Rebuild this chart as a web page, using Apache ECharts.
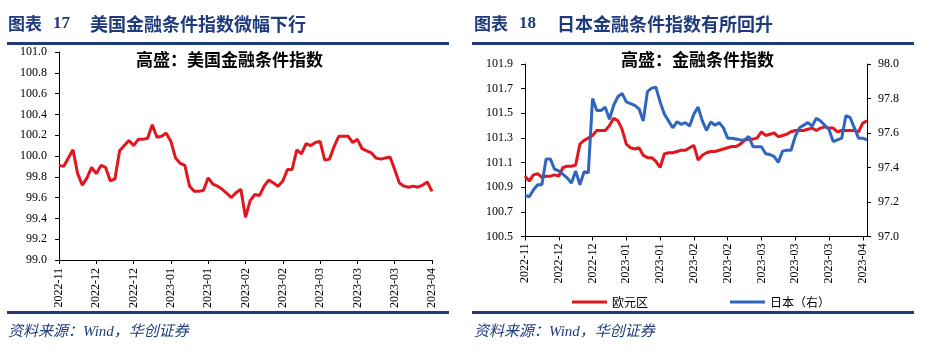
<!DOCTYPE html>
<html>
<head>
<meta charset="utf-8">
<script src="https://cdn.jsdelivr.net/npm/echarts@6/dist/echarts.min.js"></script>
<style>
html, body { margin: 0; padding: 0; background: #fff; }
#main { width: 934px; height: 354px; }
</style>
</head>
<body>
<div id="main"></div>
<script>
// 横轴标签（每8个点一个）
var tickLabels = ['2022-11', '2022-12', '2022-12', '2023-01', '2023-01', '2023-02', '2023-02', '2023-03', '2023-03', '2023-03', '2023-04'];
// 高盛：美国金融条件指数
var usFci = [99.91, 99.90, 99.98, 100.06, 99.83, 99.72, 99.79, 99.89, 99.83, 99.91,
	99.89, 99.76, 99.78, 100.05, 100.10, 100.15, 100.10, 100.16, 100.16, 100.17,
	100.30, 100.18, 100.19, 100.22, 100.14, 99.98, 99.93, 99.91, 99.71, 99.66,
	99.66, 99.67, 99.79, 99.73, 99.71, 99.68, 99.64, 99.60, 99.65, 99.68,
	99.41, 99.57, 99.63, 99.62, 99.71, 99.77, 99.74, 99.71, 99.76, 99.87,
	99.87, 100.06, 100.02, 100.12, 100.10, 100.13, 100.14, 99.96, 99.97, 100.09,
	100.19, 100.19, 100.19, 100.13, 100.16, 100.07, 100.05, 100.03, 99.98, 99.97,
	99.98, 99.99, 99.87, 99.74, 99.71, 99.70, 99.71, 99.70, 99.72, 99.75, 99.66];
// 欧元区（左轴）
var eurFci = [100.99, 100.95, 101.00, 101.01, 100.98, 100.99, 100.99, 101.00, 100.99, 101.06,
	101.07, 101.07, 101.08, 101.25, 101.28, 101.30, 101.32, 101.36, 101.36, 101.36,
	101.40, 101.46, 101.44, 101.37, 101.25, 101.22, 101.21, 101.22, 101.16, 101.14,
	101.14, 101.11, 101.06, 101.17, 101.18, 101.18, 101.19, 101.20, 101.20, 101.22,
	101.24, 101.12, 101.16, 101.18, 101.19, 101.19, 101.20, 101.21, 101.22, 101.23,
	101.23, 101.25, 101.28, 101.29, 101.29, 101.30, 101.35, 101.32, 101.33, 101.34,
	101.31, 101.32, 101.33, 101.35, 101.36, 101.36, 101.36, 101.37, 101.38, 101.36,
	101.38, 101.39, 101.38, 101.38, 101.35, 101.36, 101.36, 101.36, 101.36, 101.35,
	101.42, 101.44];
// 日本（右轴）
var jpFci = [97.24, 97.23, 97.27, 97.30, 97.30, 97.45, 97.45, 97.39, 97.38, 97.36,
	97.34, 97.31, 97.38, 97.30, 97.375, 97.37, 97.80, 97.73, 97.73, 97.75,
	97.68, 97.76, 97.81, 97.83, 97.78, 97.77, 97.76, 97.74, 97.67, 97.84,
	97.86, 97.865, 97.78, 97.71, 97.67, 97.63, 97.665, 97.65, 97.66, 97.64,
	97.71, 97.75, 97.67, 97.615, 97.665, 97.645, 97.66, 97.63, 97.57, 97.57,
	97.565, 97.56, 97.56, 97.58, 97.52, 97.52, 97.52, 97.48, 97.475, 97.465,
	97.43, 97.495, 97.50, 97.50, 97.58, 97.63, 97.645, 97.66, 97.64, 97.685,
	97.67, 97.645, 97.62, 97.55, 97.56, 97.57, 97.70, 97.69, 97.63, 97.57,
	97.57, 97.56];

var RED = '#E1161F';
var BLUE = '#2F65BF';
var NAVY = '#1F3B7C';
var SERIF = '"Liberation Serif", "Times New Roman", serif';
var CJK = '"Noto Sans CJK SC", sans-serif';
var SRC_FONT = 'italic 15px "Liberation Serif", "Noto Sans CJK SC", sans-serif';

function makeCats(n) {
	var arr = [];
	for (var i = 0; i < n; i++) arr.push(String(i));
	return arr;
}
function xLabel(value, index) {
	return index % 8 === 0 ? (tickLabels[index / 8] || '') : '';
}
function catAxis(grid, n, margin) {
	return {
		type: 'category',
		gridIndex: grid,
		boundaryGap: false,
		data: makeCats(n),
		axisLine: { lineStyle: { color: '#000', width: 1 } },
		axisTick: { interval: 7, length: 4, lineStyle: { color: '#000' } },
		axisLabel: {
			interval: 7, rotate: 90, margin: margin, formatter: xLabel,
			color: '#000', fontFamily: SERIF, fontSize: 12
		},
		splitLine: { show: false }
	};
}
function valAxis(grid, min, max, pos, margin) {
	return {
		type: 'value',
		gridIndex: grid,
		position: pos,
		min: min,
		max: max,
		interval: 0.2,
		axisLine: { show: true, lineStyle: { color: '#000', width: 1 } },
		axisTick: { show: true, length: 4, lineStyle: { color: '#000' } },
		axisLabel: {
			margin: margin, color: '#000', fontFamily: SERIF, fontSize: 12,
			formatter: function (v) { return v.toFixed(1); }
		},
		splitLine: { show: false }
	};
}
function headText(x, text, font) {
	return { type: 'text', x: x, y: 24, style: { text: text, font: font, fill: NAVY, verticalAlign: 'middle' } };
}
function rule(x, y, w, h) {
	return { type: 'rect', shape: { x: x, y: y, width: w, height: h }, style: { fill: NAVY } };
}

var myChart = echarts.init(document.getElementById('main'));
var option = {
	backgroundColor: '#fff',
	animation: false,
	graphic: [
		headText(8, '图表', 'bold 17px ' + CJK),
		headText(53, '17', 'bold 17px ' + SERIF),
		headText(90, '美国金融条件指数微幅下行', 'bold 18px ' + CJK),
		headText(474, '图表', 'bold 17px ' + CJK),
		headText(519, '18', 'bold 17px ' + SERIF),
		headText(557, '日本金融条件指数有所回升', 'bold 18px ' + CJK),
		rule(7, 42, 442, 3),
		rule(472, 42, 442, 3),
		rule(7, 311, 442, 3),
		rule(472, 311, 442, 3),
		{ type: 'text', x: 229.5, y: 60, style: { text: '高盛：美国金融条件指数', font: 'bold 17px ' + CJK, fill: '#000', align: 'center', verticalAlign: 'middle' } },
		{ type: 'text', x: 697.5, y: 60, style: { text: '高盛：金融条件指数', font: 'bold 17px ' + CJK, fill: '#000', align: 'center', verticalAlign: 'middle' } },
		{ type: 'text', x: 8, y: 332, style: { text: '资料来源：Wind，华创证券', font: SRC_FONT, fill: NAVY, verticalAlign: 'middle' } },
		{ type: 'text', x: 474, y: 332, style: { text: '资料来源：Wind，华创证券', font: SRC_FONT, fill: NAVY, verticalAlign: 'middle' } }
	],
	legend: {
		left: 567,
		top: 291,
		icon: 'rect',
		itemWidth: 35,
		itemHeight: 3,
		itemGap: 82,
		textStyle: { color: '#000', fontSize: 12, fontFamily: CJK },
		data: ['欧元区', '日本（右）']
	},
	grid: [
		{ left: 59, top: 52, width: 373, height: 208 },
		{ left: 525, top: 64, width: 342, height: 172.5 }
	],
	xAxis: [
		catAxis(0, usFci.length, 8),
		catAxis(1, eurFci.length, 7)
	],
	yAxis: [
		valAxis(0, 99, 101, 'left', 12),
		valAxis(1, 100.5, 101.9, 'left', 12),
		valAxis(1, 97, 98, 'right', 11)
	],
	series: [{
		name: '高盛：美国金融条件指数',
		type: 'line',
		xAxisIndex: 0,
		yAxisIndex: 0,
		showSymbol: false,
		lineStyle: { color: RED, width: 3 },
		itemStyle: { color: RED },
		data: usFci
	}, {
		name: '欧元区',
		type: 'line',
		xAxisIndex: 1,
		yAxisIndex: 1,
		showSymbol: false,
		lineStyle: { color: RED, width: 3 },
		itemStyle: { color: RED },
		data: eurFci
	}, {
		name: '日本（右）',
		type: 'line',
		xAxisIndex: 1,
		yAxisIndex: 2,
		showSymbol: false,
		lineStyle: { color: BLUE, width: 3 },
		itemStyle: { color: BLUE },
		data: jpFci
	}]
};
myChart.setOption(option);
</script>
</body>
</html>
